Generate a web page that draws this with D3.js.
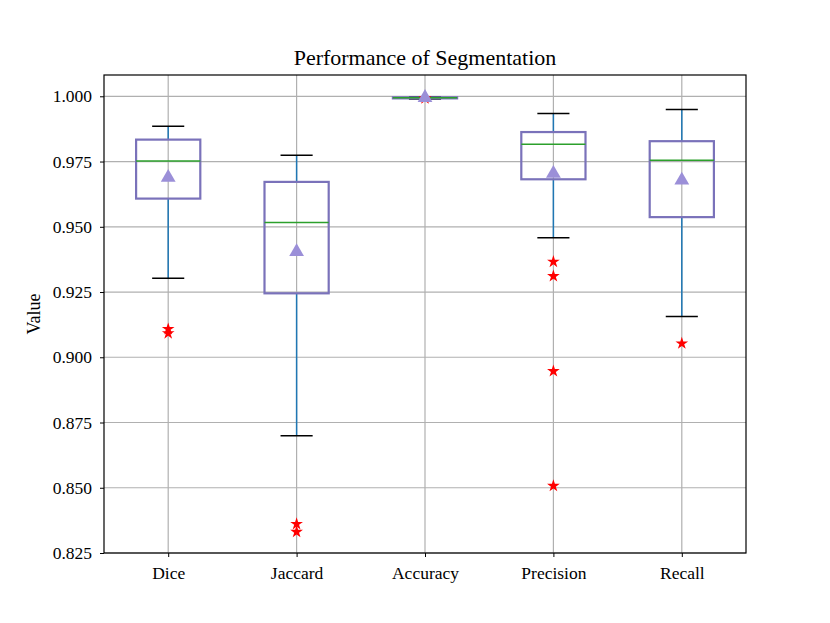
<!DOCTYPE html>
<html><head><meta charset="utf-8">
<script src="https://cdn.jsdelivr.net/npm/d3@7"></script>
<style>body{margin:0;background:#fff;} text{font-family:"Liberation Serif","Times New Roman",serif;}</style>
</head><body><svg id="chart" width="830" height="623"></svg>
<script>
const categories = ["Dice", "Jaccard", "Accuracy", "Precision", "Recall"];
const whiskerLow  = [0.9303, 0.8699, 0.9990, 0.9458, 0.9156];
const boxQ1       = [0.9608, 0.9245, 0.9992, 0.9682, 0.9537];
const medians     = [0.9752, 0.9516, 0.9994, 0.9816, 0.9755];
const boxQ3       = [0.9834, 0.9672, 0.9996, 0.9863, 0.9828];
const whiskerHigh = [0.9885, 0.9774, 0.9998, 0.9934, 0.9949];
const means       = [0.9689, 0.9404, 0.9995, 0.9704, 0.9678];
const outliers    = [[0.9108, 0.9092], [0.8361, 0.8331], [0.9992], [0.9366, 0.9311, 0.8947, 0.8507], [0.9053]];
const yTicks = [0.825, 0.850, 0.875, 0.900, 0.925, 0.950, 0.975, 1.000];

const svg = d3.select("#chart");
const m = {left: 104, right: 746, top: 75, bottom: 553};
const x = d3.scaleLinear().domain([0.5, 5.5]).range([m.left, m.right]);
const y = d3.scaleLinear().domain([0.825, 1.00816]).range([m.bottom, m.top]);
const step = x(2) - x(1);

const g = svg.append("g");
g.selectAll(".hg").data(yTicks).join("line")
  .attr("x1", m.left).attr("x2", m.right).attr("y1", d => y(d)).attr("y2", d => y(d))
  .attr("stroke", "#b0b0b0").attr("stroke-width", 1.2);
g.selectAll(".vg").data(categories).join("line")
  .attr("x1", (d, i) => x(i + 1)).attr("x2", (d, i) => x(i + 1)).attr("y1", m.top).attr("y2", m.bottom)
  .attr("stroke", "#b0b0b0").attr("stroke-width", 1.2);

const yAxis = d3.axisLeft(y).tickValues(yTicks).tickFormat(d3.format(".3f")).tickSize(4).tickPadding(8);
const xAxis = d3.axisBottom(x).tickValues(categories.map((d, i) => i + 1)).tickFormat((d) => categories[d - 1]).tickSize(4).tickPadding(10);
const ya = svg.append("g").attr("transform", `translate(${m.left},0)`).call(yAxis);
const xa = svg.append("g").attr("transform", `translate(0,${m.bottom})`).call(xAxis);
[ya, xa].forEach(a => {
  a.select(".domain").remove();
  a.selectAll("text").attr("font-size", 17.5).attr("fill", "#000").style("font-family", "Liberation Serif");
  a.selectAll("line").attr("stroke", "#000");
});

const data = categories.map((c, i) => ({i: i + 1, lo: whiskerLow[i], q1: boxQ1[i], med: medians[i], q3: boxQ3[i], hi: whiskerHigh[i], mean: means[i], out: outliers[i]}));
const bw = step * 0.5, cw = step * 0.25;
const bx = svg.append("g");
data.forEach(d => {
  const cx = x(d.i);
  bx.append("line").attr("x1", cx).attr("x2", cx).attr("y1", y(d.q1)).attr("y2", y(d.lo)).attr("stroke", "#1f77b4").attr("stroke-width", 1.5);
  bx.append("line").attr("x1", cx).attr("x2", cx).attr("y1", y(d.q3)).attr("y2", y(d.hi)).attr("stroke", "#1f77b4").attr("stroke-width", 1.5);
  [d.lo, d.hi].forEach(v => bx.append("line").attr("x1", cx - cw / 2).attr("x2", cx + cw / 2).attr("y1", y(v)).attr("y2", y(v)).attr("stroke", "#000").attr("stroke-width", 1.5));
  bx.append("rect").attr("x", cx - bw / 2).attr("width", bw).attr("y", y(d.q3)).attr("height", y(d.q1) - y(d.q3))
    .attr("fill", "none").attr("stroke", "#7a72ba").attr("stroke-width", 2.2);
  bx.append("line").attr("x1", cx - bw / 2).attr("x2", cx + bw / 2).attr("y1", y(d.med)).attr("y2", y(d.med)).attr("stroke", "#2ca02c").attr("stroke-width", 1.5);
  d.out.forEach(v => bx.append("path").attr("d", d3.symbol(d3.symbolStar, 50)()).attr("transform", `translate(${cx},${y(v)})`).attr("fill", "#ff0000"));
  bx.append("path").attr("d", d3.symbol(d3.symbolTriangle, 95)()).attr("transform", `translate(${cx},${y(d.mean)})`).attr("fill", "#9b8fd8");
});

svg.append("rect").attr("x", m.left).attr("y", m.top).attr("width", m.right - m.left).attr("height", m.bottom - m.top)
  .attr("fill", "none").attr("stroke", "#000").attr("stroke-width", 1.2);

svg.append("text").attr("x", (m.left + m.right) / 2).attr("y", 65).attr("text-anchor", "middle").attr("font-size", 22).text("Performance of Segmentation");
svg.append("text").attr("transform", `translate(40,${(m.top + m.bottom) / 2}) rotate(-90)`).attr("text-anchor", "middle").attr("font-size", 18).text("Value");
</script></body></html>
